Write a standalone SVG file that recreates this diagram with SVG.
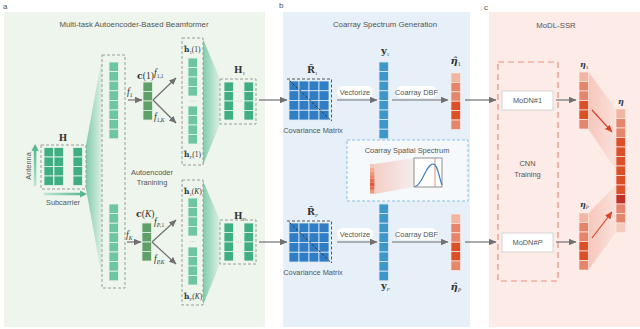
<svg xmlns="http://www.w3.org/2000/svg" width="640" height="329" viewBox="0 0 640 329">
<defs>
<style>
.t{font-family:"Liberation Sans",Arial,sans-serif;fill:#555;}
.title{font-size:7.8px;text-anchor:middle;}
.sm{font-size:7.4px;text-anchor:middle;}
.m{font-family:"DejaVu Serif","Liberation Serif",serif;font-weight:bold;fill:#333;}
.r{font-family:"Liberation Serif","DejaVu Serif",serif;fill:#333;}
.mi{font-family:"Liberation Serif","DejaVu Serif",serif;font-style:italic;fill:#333;}
.eta{font-family:"DejaVu Serif","Liberation Serif",serif;font-style:italic;font-weight:bold;fill:#333;}
.dg{fill:none;stroke:#9c9c9c;stroke-width:1;stroke-dasharray:3,2;}
.g1{fill:#3fae80;stroke:#e8f4ec;stroke-width:0.8;}
.g2{fill:#6fc59f;stroke:#e8f4ec;stroke-width:0.8;}
.g3{fill:#5f9f68;stroke:#e3efe2;stroke-width:0.8;}
.bc{fill:#2f7dc4;stroke:#dce9f5;stroke-width:0.8;}
.by{fill:#3f96c8;stroke:#dce9f5;stroke-width:0.8;}
.e0{fill:#f0b5a3;stroke:#fbe9e4;stroke-width:0.7;}
.e1{fill:#e4866c;stroke:#fbe9e4;stroke-width:0.7;}
.e2{fill:#dc5028;stroke:#fbe9e4;stroke-width:0.7;}
.e3{fill:#c2302b;stroke:#fbe9e4;stroke-width:0.7;}
.e4{fill:#f5cbbd;stroke:#fbe9e4;stroke-width:0.7;}
.arr{stroke:#707070;stroke-width:1.2;fill:none;marker-end:url(#ah);}
.rarr{stroke:#d8442a;stroke-width:1.2;fill:none;marker-end:url(#rh);}
.pill{fill:#ffffff;}
.box{fill:#ffffff;stroke:#d6d6d6;stroke-width:1;}
.dot{fill:#b8b8b8;}
</style>
<marker id="ah" markerUnits="userSpaceOnUse" markerWidth="7.5" markerHeight="6.5" viewBox="0 0 7.5 6.5" refX="7" refY="3.25" orient="auto"><path d="M0,0 L7.5,3.25 L0,6.5 z" fill="#707070"/></marker>
<marker id="rh" markerUnits="userSpaceOnUse" markerWidth="7.5" markerHeight="6.5" viewBox="0 0 7.5 6.5" refX="7" refY="3.25" orient="auto"><path d="M0,0 L7.5,3.25 L0,6.5 z" fill="#d8442a"/></marker>
<linearGradient id="gw" x1="0" y1="0" x2="1" y2="0"><stop offset="0" stop-color="#5cbf96" stop-opacity="0.75"/><stop offset="1" stop-color="#5cbf96" stop-opacity="0.1"/></linearGradient>
<linearGradient id="gp" x1="0" y1="0" x2="1" y2="0"><stop offset="0" stop-color="#f09a86" stop-opacity="0.45"/><stop offset="1" stop-color="#f09a86" stop-opacity="0.12"/></linearGradient>
<linearGradient id="gv" x1="0" y1="1" x2="0" y2="0"><stop offset="0" stop-color="#bfe6d4"/><stop offset="1" stop-color="#49b288"/></linearGradient>
<linearGradient id="gh" x1="0" y1="0" x2="1" y2="0"><stop offset="0" stop-color="#bfe6d4"/><stop offset="1" stop-color="#49b288"/></linearGradient>
</defs>

<g id="panels">
<rect x="4" y="12" width="261" height="315" fill="#edf5ec"/>
<rect x="283" y="12" width="187" height="315" fill="#e7f0f8"/>
<rect x="489" y="12" width="151" height="315" fill="#fcebe7"/>
<text class="t" x="3" y="9" font-size="8" fill="#333">a</text>
<text class="t" x="279" y="8" font-size="8" fill="#333">b</text>
<text class="t" x="484" y="10" font-size="8" fill="#333">c</text>
<text class="t title" x="134" y="27">Multi-task Autoencoder-Based Beamformer</text>
<text class="t title" x="385" y="27">Coarray Spectrum Generation</text>
<text class="t title" x="556" y="28">MoDL-SSR</text>
</g>

<g id="wedges">
<polygon points="86,145 102,57 102,277 86,189" fill="url(#gw)"/>
<polygon points="203,39 220,79 220,124 203,165" fill="url(#gw)"/>
<polygon points="203,181 220,220 220,264 203,305" fill="url(#gw)"/>
<polygon points="588.5,72 616,109 616,170 588.5,129" fill="url(#gp)"/>
<polygon points="588.5,213 616,185 616,232 588.5,270" fill="url(#gp)"/>
</g>

<g id="H">
<rect class="dg" x="41" y="145" width="45" height="44"/>
<rect class="g1" x="44" y="147.5" width="9.5" height="9.5"/><rect class="g1" x="54" y="147.5" width="9.5" height="9.5"/><rect class="g1" x="73" y="147.5" width="9.5" height="9.5"/>
<rect class="g1" x="44" y="157" width="9.5" height="9.5"/><rect class="g1" x="54" y="157" width="9.5" height="9.5"/><rect class="g1" x="73" y="157" width="9.5" height="9.5"/>
<rect class="g1" x="44" y="166.5" width="9.5" height="9.5"/><rect class="g1" x="54" y="166.5" width="9.5" height="9.5"/><rect class="g1" x="73" y="166.5" width="9.5" height="9.5"/>
<rect class="g1" x="44" y="176" width="9.5" height="9.5"/><rect class="g1" x="54" y="176" width="9.5" height="9.5"/><rect class="g1" x="73" y="176" width="9.5" height="9.5"/>
<text class="m" x="63" y="141" font-size="9" text-anchor="middle">H</text>
<polygon points="33.8,186 36.4,186 36.4,151 38.8,151 35.1,144 31.4,151 33.8,151" fill="url(#gv)"/>
<polygon points="44,192.8 80,192.8 80,190.5 87,194 80,197.5 80,195.2 44,195.2" fill="url(#gh)"/>
<text class="t" transform="translate(31,166) rotate(-90)" font-size="7.4" text-anchor="middle" fill="#777">Antenna</text>
<text class="t sm" x="63" y="205" fill="#777">Subcarrier</text>
</g>

<g id="tall">
<rect class="dg" x="102" y="55" width="23" height="233"/>
<rect class="g2" x="109" y="62" width="9.5" height="9.6"/><rect class="g2" x="109" y="71.6" width="9.5" height="9.6"/><rect class="g2" x="109" y="81.2" width="9.5" height="9.6"/><rect class="g2" x="109" y="90.8" width="9.5" height="9.6"/>
<rect class="g2" x="109" y="100.4" width="9.5" height="9.6"/><rect class="g2" x="109" y="110" width="9.5" height="9.6"/><rect class="g2" x="109" y="119.6" width="9.5" height="9.6"/><rect class="g2" x="109" y="129.2" width="9.5" height="9.6"/>
<rect class="g2" x="109" y="204" width="9.5" height="9.6"/><rect class="g2" x="109" y="213.6" width="9.5" height="9.6"/><rect class="g2" x="109" y="223.2" width="9.5" height="9.6"/><rect class="g2" x="109" y="232.8" width="9.5" height="9.6"/>
<rect class="g2" x="109" y="242.4" width="9.5" height="9.6"/><rect class="g2" x="109" y="252" width="9.5" height="9.6"/><rect class="g2" x="109" y="261.6" width="9.5" height="9.6"/><rect class="g2" x="109" y="271.2" width="9.5" height="9.6"/>
<text class="t sm" x="152" y="175" fill="#666">Autoencoder</text>
<text class="t sm" x="152" y="184.5" fill="#666">Tranining</text>
</g>

<g id="c1">
<rect class="g3" x="143" y="82" width="9.5" height="9.5"/><rect class="g3" x="143" y="91.5" width="9.5" height="9.5"/><rect class="g3" x="143" y="101" width="9.5" height="9.5"/><rect class="g3" x="143" y="110.5" width="9.5" height="9.5"/>
<text x="137" y="78.5" font-size="9.5"><tspan class="m">c</tspan><tspan class="r">(1)</tspan></text>
<text class="mi" x="127" y="95" font-size="9.5">f<tspan font-size="5.5" dy="2" font-style="normal">1</tspan></text>
<text class="mi" x="154" y="76" font-size="9.5">f<tspan font-size="5.5" dy="2" font-style="normal">1,1</tspan></text>
<text class="mi" x="154" y="120" font-size="9.5">f<tspan font-size="5.5" dy="2"><tspan font-style="normal">1,</tspan>K</tspan></text>
</g>

<g id="cK">
<rect class="g3" x="142" y="223" width="9.5" height="9.5"/><rect class="g3" x="142" y="232.5" width="9.5" height="9.5"/><rect class="g3" x="142" y="242" width="9.5" height="9.5"/><rect class="g3" x="142" y="251.5" width="9.5" height="9.5"/>
<text x="136" y="217" font-size="9.5"><tspan class="m">c</tspan><tspan class="r">(</tspan><tspan class="mi">K</tspan><tspan class="r">)</tspan></text>
<text class="mi" x="126" y="238" font-size="9.5">f<tspan font-size="5.5" dy="2">K</tspan></text>
<text class="mi" x="154" y="225" font-size="9.5">f<tspan font-size="5.5" dy="2">P<tspan font-style="normal">,1</tspan></tspan></text>
<text class="mi" x="154" y="262" font-size="9.5">f<tspan font-size="5.5" dy="2">P,K</tspan></text>
</g>

<g id="h1">
<rect class="dg" x="182" y="38" width="21" height="127"/>
<rect class="g2" x="188" y="58" width="9.5" height="9.5"/><rect class="g2" x="188" y="67.5" width="9.5" height="9.5"/><rect class="g2" x="188" y="77" width="9.5" height="9.5"/><rect class="g2" x="188" y="86.5" width="9.5" height="9.5"/>
<circle class="dot" cx="190.5" cy="101" r="0.5"/><circle class="dot" cx="192.7" cy="101" r="0.5"/><circle class="dot" cx="194.9" cy="101" r="0.5"/>
<rect class="g2" x="188" y="106" width="9.5" height="9.5"/><rect class="g2" x="188" y="115.5" width="9.5" height="9.5"/><rect class="g2" x="188" y="125" width="9.5" height="9.5"/><rect class="g2" x="188" y="134.5" width="9.5" height="9.5"/>
<text x="184" y="52" font-size="7.5"><tspan class="m">h&#x303;</tspan><tspan class="r" font-size="4.5" dy="1.5">1</tspan><tspan class="r" dy="-1.5">(1)</tspan></text>
<text x="184" y="157" font-size="7.5"><tspan class="m">h&#x303;</tspan><tspan class="mi" font-size="4.5" dy="1.5">P</tspan><tspan class="r" dy="-1.5">(1)</tspan></text>
</g>

<g id="hK">
<rect class="dg" x="182" y="180" width="21" height="125"/>
<rect class="g2" x="188" y="198" width="9.5" height="9.5"/><rect class="g2" x="188" y="207.5" width="9.5" height="9.5"/><rect class="g2" x="188" y="217" width="9.5" height="9.5"/><rect class="g2" x="188" y="226.5" width="9.5" height="9.5"/>
<circle class="dot" cx="190.5" cy="241.5" r="0.5"/><circle class="dot" cx="192.7" cy="241.5" r="0.5"/><circle class="dot" cx="194.9" cy="241.5" r="0.5"/>
<rect class="g2" x="188" y="247" width="9.5" height="9.5"/><rect class="g2" x="188" y="256.5" width="9.5" height="9.5"/><rect class="g2" x="188" y="266" width="9.5" height="9.5"/><rect class="g2" x="188" y="275.5" width="9.5" height="9.5"/>
<text x="184" y="194" font-size="7.5"><tspan class="m">h&#x303;</tspan><tspan class="r" font-size="4.5" dy="1.5">1</tspan><tspan class="r" dy="-1.5">(</tspan><tspan class="mi">K</tspan><tspan class="r">)</tspan></text>
<text x="184" y="299" font-size="7.5"><tspan class="m">h&#x303;</tspan><tspan class="mi" font-size="4.5" dy="1.5">P</tspan><tspan class="r" dy="-1.5">(</tspan><tspan class="mi">K</tspan><tspan class="r">)</tspan></text>
</g>

<g id="H1">
<rect class="dg" x="220" y="79" width="36" height="45"/>
<rect class="g1" x="224" y="82" width="9.5" height="9.5"/><rect class="g1" x="244" y="82" width="9.5" height="9.5"/>
<rect class="g1" x="224" y="91.5" width="9.5" height="9.5"/><rect class="g1" x="244" y="91.5" width="9.5" height="9.5"/>
<rect class="g1" x="224" y="101" width="9.5" height="9.5"/><rect class="g1" x="244" y="101" width="9.5" height="9.5"/>
<rect class="g1" x="224" y="110.5" width="9.5" height="9.5"/><rect class="g1" x="244" y="110.5" width="9.5" height="9.5"/>
<circle class="dot" cx="236.5" cy="101" r="0.5"/><circle class="dot" cx="238.7" cy="101" r="0.5"/><circle class="dot" cx="240.9" cy="101" r="0.5"/>
<text class="m" x="234" y="73" font-size="9">H<tspan class="r" font-weight="normal" font-size="5" dy="1.5">1</tspan></text>
</g>

<g id="HP">
<rect class="dg" x="220" y="220" width="36" height="44"/>
<rect class="g1" x="224" y="223" width="9.5" height="9.5"/><rect class="g1" x="244" y="223" width="9.5" height="9.5"/>
<rect class="g1" x="224" y="232.5" width="9.5" height="9.5"/><rect class="g1" x="244" y="232.5" width="9.5" height="9.5"/>
<rect class="g1" x="224" y="242" width="9.5" height="9.5"/><rect class="g1" x="244" y="242" width="9.5" height="9.5"/>
<rect class="g1" x="224" y="251.5" width="9.5" height="9.5"/><rect class="g1" x="244" y="251.5" width="9.5" height="9.5"/>
<circle class="dot" cx="236.5" cy="242" r="0.5"/><circle class="dot" cx="238.7" cy="242" r="0.5"/><circle class="dot" cx="240.9" cy="242" r="0.5"/>
<text class="m" x="234" y="219" font-size="9">H<tspan class="mi" font-weight="normal" font-size="5" dy="1.5">P</tspan></text>
</g>

<g id="R1">
<g>
<rect class="bc" x="289" y="81" width="10" height="9.75"/><rect class="bc" x="299" y="81" width="10" height="9.75"/><rect class="bc" x="309" y="81" width="10" height="9.75"/><rect class="bc" x="319" y="81" width="10" height="9.75"/>
<rect class="bc" x="289" y="90.75" width="10" height="9.75"/><rect class="bc" x="299" y="90.75" width="10" height="9.75"/><rect class="bc" x="309" y="90.75" width="10" height="9.75"/><rect class="bc" x="319" y="90.75" width="10" height="9.75"/>
<rect class="bc" x="289" y="100.5" width="10" height="9.75"/><rect class="bc" x="299" y="100.5" width="10" height="9.75"/><rect class="bc" x="309" y="100.5" width="10" height="9.75"/><rect class="bc" x="319" y="100.5" width="10" height="9.75"/>
<rect class="bc" x="289" y="110.25" width="10" height="9.75"/><rect class="bc" x="299" y="110.25" width="10" height="9.75"/><rect class="bc" x="309" y="110.25" width="10" height="9.75"/><rect class="bc" x="319" y="110.25" width="10" height="9.75"/>
</g>
<path d="M287,79 H331.5 V121" fill="none" stroke="#555" stroke-width="1" stroke-dasharray="3,2"/>
<path d="M289.5,80.5 L331.5,121" fill="none" stroke="#333" stroke-width="1" stroke-dasharray="2.5,2"/>
<text class="m" x="307" y="73" font-size="9.5">R&#x302;<tspan class="r" font-weight="normal" font-size="5" dy="1.5">1</tspan></text>
<text class="t sm" x="313" y="133" fill="#666">Covariance Matrix</text>
</g>

<g id="RP">
<g>
<rect class="bc" x="289" y="223" width="10" height="9.75"/><rect class="bc" x="299" y="223" width="10" height="9.75"/><rect class="bc" x="309" y="223" width="10" height="9.75"/><rect class="bc" x="319" y="223" width="10" height="9.75"/>
<rect class="bc" x="289" y="232.75" width="10" height="9.75"/><rect class="bc" x="299" y="232.75" width="10" height="9.75"/><rect class="bc" x="309" y="232.75" width="10" height="9.75"/><rect class="bc" x="319" y="232.75" width="10" height="9.75"/>
<rect class="bc" x="289" y="242.5" width="10" height="9.75"/><rect class="bc" x="299" y="242.5" width="10" height="9.75"/><rect class="bc" x="309" y="242.5" width="10" height="9.75"/><rect class="bc" x="319" y="242.5" width="10" height="9.75"/>
<rect class="bc" x="289" y="252.25" width="10" height="9.75"/><rect class="bc" x="299" y="252.25" width="10" height="9.75"/><rect class="bc" x="309" y="252.25" width="10" height="9.75"/><rect class="bc" x="319" y="252.25" width="10" height="9.75"/>
</g>
<path d="M287,221 H331.5 V263" fill="none" stroke="#555" stroke-width="1" stroke-dasharray="3,2"/>
<path d="M289.5,222.5 L331.5,263" fill="none" stroke="#333" stroke-width="1" stroke-dasharray="2.5,2"/>
<text class="m" x="307" y="215" font-size="9.5">R&#x302;<tspan class="mi" font-weight="normal" font-size="5" dy="1.5">P</tspan></text>
<text class="t sm" x="313" y="275" fill="#666">Covariance Matrix</text>
</g>

<g id="y1">
<rect class="by" x="379" y="62" width="9.5" height="9.6"/><rect class="by" x="379" y="71.6" width="9.5" height="9.6"/><rect class="by" x="379" y="81.2" width="9.5" height="9.6"/><rect class="by" x="379" y="90.8" width="9.5" height="9.6"/>
<rect class="by" x="379" y="100.4" width="9.5" height="9.6"/><rect class="by" x="379" y="110" width="9.5" height="9.6"/><rect class="by" x="379" y="119.6" width="9.5" height="9.6"/><rect class="by" x="379" y="129.2" width="9.5" height="9.6"/>
<text class="m" x="381" y="54" font-size="10">y<tspan class="r" font-weight="normal" font-size="5" dy="1.5">1</tspan></text>
</g>
<g id="yP">
<rect class="by" x="379" y="204" width="9.5" height="9.6"/><rect class="by" x="379" y="213.6" width="9.5" height="9.6"/><rect class="by" x="379" y="223.2" width="9.5" height="9.6"/><rect class="by" x="379" y="232.8" width="9.5" height="9.6"/>
<rect class="by" x="379" y="242.4" width="9.5" height="9.6"/><rect class="by" x="379" y="252" width="9.5" height="9.6"/><rect class="by" x="379" y="261.6" width="9.5" height="9.6"/><rect class="by" x="379" y="271.2" width="9.5" height="9.6"/>
<text class="m" x="381" y="289" font-size="10">y<tspan class="mi" font-weight="normal" font-size="5" dy="1.5">P</tspan></text>
</g>

<g id="etahat1">
<rect class="e0" x="451" y="73" width="9.5" height="9.4"/><rect class="e1" x="451" y="82.4" width="9.5" height="9.4"/><rect class="e1" x="451" y="91.8" width="9.5" height="9.4"/>
<rect class="e2" x="451" y="101.2" width="9.5" height="9.4"/><rect class="e2" x="451" y="110.6" width="9.5" height="9.4"/><rect class="e1" x="451" y="120" width="9.5" height="9.4"/>
<text class="eta" x="450.5" y="64" font-size="10">η&#x302;<tspan font-weight="normal" font-style="normal" font-size="5" dy="1.5">1</tspan></text>
</g>
<g id="etahatP">
<rect class="e0" x="451" y="214" width="9.5" height="9.4"/><rect class="e1" x="451" y="223.4" width="9.5" height="9.4"/><rect class="e1" x="451" y="232.8" width="9.5" height="9.4"/>
<rect class="e2" x="451" y="242.2" width="9.5" height="9.4"/><rect class="e2" x="451" y="251.6" width="9.5" height="9.4"/><rect class="e1" x="451" y="261" width="9.5" height="9.4"/>
<text class="eta" x="450.5" y="290" font-size="10">η&#x302;<tspan font-weight="normal" font-size="5" dy="1.5">P</tspan></text>
</g>

<g id="inset">
<rect x="347" y="140" width="121" height="61" fill="#f6f9fc" stroke="#8fbfe2" stroke-width="1" stroke-dasharray="3,2"/>
<text class="t sm" x="407" y="153" fill="#555">Coarray Spatial Spectrum</text>
<polygon points="374.5,164 414,158 414,187 374.5,194" fill="url(#gp)"/>
<rect x="370" y="164" width="4.5" height="3.7" fill="#f6c7b8"/><rect x="370" y="167.7" width="4.5" height="3.7" fill="#f0ab96"/>
<rect x="370" y="171.4" width="4.5" height="3.7" fill="#ec9a82"/><rect x="370" y="175.1" width="4.5" height="3.7" fill="#e8876c"/>
<rect x="370" y="178.8" width="4.5" height="3.7" fill="#e3704f"/><rect x="370" y="182.5" width="4.5" height="3.7" fill="#de5a34"/>
<rect x="370" y="186.2" width="4.5" height="3.7" fill="#e27050"/><rect x="370" y="189.9" width="4.5" height="3.7" fill="#ec9a82"/>
<rect x="414" y="158" width="28" height="29" fill="#ffffff" stroke="#777" stroke-width="0.8"/>
<path d="M435,158 V187" stroke="#e07060" stroke-width="0.8"/>
<path d="M415,186.5 C422,186 426,164 433,164 C438,164 439,178 442,185" fill="none" stroke="#3a7dc4" stroke-width="1.2"/>
</g>

<g id="cnn">
<rect x="498" y="62" width="60" height="219" fill="none" stroke="#e8917a" stroke-width="1.2" stroke-dasharray="6,4"/>
<text class="t sm" x="527.5" y="166" fill="#666">CNN</text>
<text class="t sm" x="527.5" y="177" fill="#666">Training</text>
</g>
<g id="modn1">
<rect class="box" x="502" y="91" width="51" height="19"/>
<text class="t sm" x="527.5" y="103.3" fill="#666">MoDN#1</text>
</g>
<g id="modnP">
<rect class="box" x="502" y="233" width="51" height="19"/>
<text class="t sm" x="527.5" y="245.3" fill="#666">MoDN#<tspan font-style="italic">P</tspan></text>
</g>
<g id="eta1">
<rect class="e0" x="579" y="72" width="9.5" height="9.5"/><rect class="e1" x="579" y="81.5" width="9.5" height="9.5"/><rect class="e1" x="579" y="91" width="9.5" height="9.5"/>
<rect class="e2" x="579" y="100.5" width="9.5" height="9.5"/><rect class="e2" x="579" y="110" width="9.5" height="9.5"/><rect class="e1" x="579" y="119.5" width="9.5" height="9.5"/>
<text class="eta" x="580" y="67" font-size="8">η<tspan font-weight="normal" font-style="normal" font-size="4.5" dy="1.5">1</tspan></text>
</g>
<g id="etaP">
<rect class="e0" x="579" y="213" width="9.5" height="9.5"/><rect class="e1" x="579" y="222.5" width="9.5" height="9.5"/><rect class="e1" x="579" y="232" width="9.5" height="9.5"/>
<rect class="e2" x="579" y="241.5" width="9.5" height="9.5"/><rect class="e2" x="579" y="251" width="9.5" height="9.5"/><rect class="e1" x="579" y="260.5" width="9.5" height="9.5"/>
<text class="eta" x="580" y="207" font-size="8">η<tspan font-weight="normal" font-size="4.5" dy="1.5">P</tspan></text>
</g>
<g id="eta">
<rect class="e0" x="616" y="109" width="9.5" height="9.5"/><rect class="e1" x="616" y="118.5" width="9.5" height="9.5"/><rect class="e1" x="616" y="128" width="9.5" height="9.5"/>
<rect class="e2" x="616" y="137.5" width="9.5" height="9.5"/><rect class="e2" x="616" y="147" width="9.5" height="9.5"/><rect class="e2" x="616" y="156.5" width="9.5" height="9.5"/>
<rect class="e2" x="616" y="166" width="9.5" height="9.5"/><rect class="e2" x="616" y="175.5" width="9.5" height="9.5"/><rect class="e2" x="616" y="185" width="9.5" height="9.5"/>
<rect class="e3" x="616" y="194.5" width="9.5" height="9.5"/><rect class="e1" x="616" y="204" width="9.5" height="9.5"/><rect class="e1" x="616" y="213.5" width="9.5" height="9.5"/>
<rect class="e4" x="616" y="223" width="9.5" height="9.5"/>
<text class="eta" x="618" y="104" font-size="8">η</text>
</g>

<g id="connectors">
<line class="arr" x1="128" y1="100" x2="142" y2="100"/>
<line class="arr" x1="153" y1="100" x2="176" y2="78"/>
<line class="arr" x1="153" y1="100" x2="176" y2="123"/>
<line class="arr" x1="127" y1="242" x2="141" y2="242"/>
<line class="arr" x1="152" y1="242" x2="176" y2="220"/>
<line class="arr" x1="152" y1="242" x2="176" y2="264"/>
<line class="arr" x1="259" y1="100" x2="287" y2="100"/>
<line class="arr" x1="259" y1="242" x2="287" y2="242"/>
<rect class="pill" x="337" y="86" width="36" height="12" rx="6"/>
<text class="t sm" x="355" y="94.6" fill="#555">Vectorize</text>
<line class="arr" x1="337" y1="100" x2="377" y2="100"/>
<rect class="pill" x="337" y="228" width="36" height="12" rx="6"/>
<text class="t sm" x="355" y="236.6" fill="#555">Vectorize</text>
<line class="arr" x1="337" y1="242" x2="377" y2="242"/>
<rect class="pill" x="396" y="86" width="41" height="12" rx="6"/>
<text class="t sm" x="416.5" y="94.6" fill="#555">Coarray DBF</text>
<line class="arr" x1="392" y1="100" x2="448" y2="100"/>
<rect class="pill" x="396" y="228" width="41" height="12" rx="6"/>
<text class="t sm" x="416.5" y="236.6" fill="#555">Coarray DBF</text>
<line class="arr" x1="392" y1="242" x2="448" y2="242"/>
<line class="arr" x1="465" y1="100" x2="496" y2="100"/>
<line class="arr" x1="465" y1="242" x2="496" y2="242"/>
<line class="arr" x1="556" y1="100" x2="576" y2="100"/>
<line class="arr" x1="556" y1="242" x2="576" y2="242"/>
<line class="rarr" x1="592" y1="110" x2="612" y2="132"/>
<line class="rarr" x1="592" y1="238" x2="612" y2="212"/>
</g>
</svg>
